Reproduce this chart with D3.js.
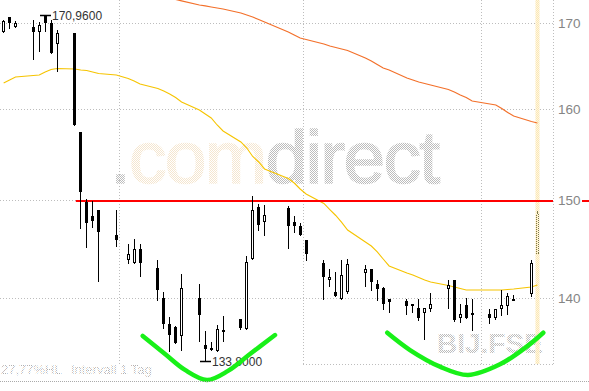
<!DOCTYPE html>
<html><head><meta charset="utf-8">
<script src="https://cdn.jsdelivr.net/npm/d3@7"></script>
<style>body{margin:0;background:#fff;} svg{display:block;font-family:"Liberation Sans",Arial,sans-serif;}</style>
</head><body><svg id="c" width="589" height="391"></svg>
<script>
// ---------- data ----------
const dates = ["2012-04-11","2012-04-12","2012-04-13","2012-04-16","2012-04-17","2012-04-18","2012-04-19","2012-04-20","2012-04-23","2012-04-24","2012-04-25","2012-04-26","2012-04-27","2012-04-30","2012-05-02","2012-05-03","2012-05-04","2012-05-07","2012-05-08","2012-05-09","2012-05-10","2012-05-11","2012-05-14","2012-05-15","2012-05-16","2012-05-17","2012-05-18","2012-05-21","2012-05-22","2012-05-23","2012-05-24","2012-05-25","2012-05-29","2012-05-30","2012-05-31","2012-06-01","2012-06-04","2012-06-05","2012-06-06","2012-06-07","2012-06-08","2012-06-11","2012-06-12","2012-06-13","2012-06-14","2012-06-15","2012-06-18","2012-06-19","2012-06-20","2012-06-21","2012-06-22","2012-06-25","2012-06-26","2012-06-27","2012-06-28","2012-06-29","2012-07-02","2012-07-03","2012-07-04","2012-07-05","2012-07-06","2012-07-09"];
const open  = [169.0,170.7,169.5,169.55,169.0,170.9,170.05,167.5,168.8,157.4,149.8,148.3,148.97,146.35,143.8,143.45,144.9,143.0,140.0,137.4,137.1,136.2,140.0,135.4,135.1,134.8,136.6,137.9,136.9,143.85,149.25,147.74,149.15,147.65,147.3,145.84,143.45,141.7,140.5,139.9,140.5,142.45,142.9,141.37,140.97,139.85,139.65,139.4,138.97,138.45,138.9,140.87,141.77,137.95,139.25,138.5,138.35,137.95,138.85,139.17,139.9,140.35];
const high  = [170.4,170.7,170.25,170.4,170.15,170.96,170.4,169.2,168.8,157.4,150.1,149.9,149.0,148.97,145.4,145.9,145.4,143.8,140.5,138.1,137.2,142.3,141.3,136.75,135.7,137.3,138.2,137.9,144.2,150.4,149.6,149.5,149.4,148.3,147.6,145.84,143.8,142.85,142.6,143.8,143.85,143.3,142.9,141.77,141.0,139.9,139.9,139.4,139.9,138.95,140.4,141.77,141.77,139.35,140.0,139.9,138.85,138.85,140.7,140.4,140.25,143.8];
const low   = [168.9,169.4,169.5,165.8,166.7,169.1,166.5,164.4,158.2,147.1,145.05,147.2,141.6,145.15,143.45,143.45,142.1,139.75,137.05,134.8,135.6,134.9,135.8,133.8,134.85,134.8,135.8,136.9,136.9,143.85,146.87,146.35,145.0,146.6,146.3,143.8,139.9,141.1,140.1,139.9,140.4,141.1,140.7,139.8,138.85,138.6,138.35,138.6,137.8,135.9,138.65,139.0,137.7,137.55,137.95,136.8,137.5,137.9,138.3,138.4,139.75,140.15];
const close = [170.3,170.0,170.0,169.0,169.8,170.0,166.5,168.8,158.2,150.9,147.6,147.8,146.6,145.84,144.4,144.9,143.5,140.77,137.4,136.3,135.6,140.9,138.3,134.96,134.9,136.9,136.8,137.05,143.6,148.9,147.35,148.45,147.25,147.25,146.3,144.4,142.0,142.0,140.1,142.2,143.4,142.85,141.5,140.87,139.4,139.6,139.2,139.2,138.0,138.95,139.4,141.27,137.8,138.4,138.0,138.3,138.0,138.85,139.25,140.1,139.75,143.45];

// running (intraday) candle
const currentDate = ["2012-07-10"];
const currentOHLC = [144.4, 148.8, 144.4, 148.6];

// moving averages
const maShort = [162.96,163.31,163.66,163.83,163.89,164.24,164.53,164.65,164.59,164.47,164.41,164.24,164.06,163.89,163.48,163.19,162.85,162.33,162.04,161.70,161.30,160.79,159.88,159.43,158.98,158.19,157.52,156.30,155.63,154.70,154.10,153.34,152.31,151.82,151.18,150.65,149.64,149.00,148.37,147.64,146.85,145.61,145.20,144.59,143.87,143.16,142.45,142.25,142.00,141.75,141.55,141.19,141.05,140.90,140.75,140.75,140.75,140.75,140.75,140.80,140.85,141.05,141.24];
const maLongStart = 17; // index in dates (2012-05-07)
const maLong = [173.44,173.26,173.07,172.89,172.73,172.22,172.10,171.97,171.85,171.73,171.24,171.00,170.76,170.46,170.16,168.96,168.60,168.24,168.06,167.53,167.29,167.11,166.93,166.76,165.87,165.52,165.11,164.70,164.47,163.54,163.31,163.08,162.91,162.73,162.22,161.93,161.59,161.30,160.90,160.56,160.45,160.05,159.60,159.20,158.58,158.41];

const yTicks = [140,150,160,170];
const monthStarts = ["2012-05-01","2012-06-01","2012-07-01"];
const resistanceLevel = 150;
const resistanceStart = "2012-04-23";
const highMark = {date:"2012-04-18", value:170.96, label:"170,9600"};
const lowMark  = {date:"2012-05-15", value:133.80, label:"133,8000"};

// hand-drawn "cup" annotations: day offsets from 2012-05-01 and prices
const cup1Days   = [3.95,7.71,11.08,14.79,18.33,22.04,26.26];
const cup1Prices = [136.24,134.51,133.00,132.06,132.91,134.51,136.33];
const cup2Days   = [45.19,49.02,54.08,58.80,64.20,68.70,71.50];
const cup2Prices = [136.55,134.89,133.31,132.53,133.53,135.21,136.55];

const infoLeft = "27,77%HL";
const infoRight = "Intervall 1 Tag";
const symbol = "BIJ.FSE";

// ---------- chart ----------
const svg = d3.select("#c");
const plotR = 553, plotB = 364;
const DAY = 864e5;
const parse = d3.utcParse("%Y-%m-%d");
const mid = s => new Date(parse(s).getTime() + DAY/2);
const x = d3.scaleUtc()
  .domain([new Date(Date.UTC(2012,3,10,21,10)), new Date(Date.UTC(2012,6,13,3,16))])
  .range([0, plotR]);
const y = d3.scaleLog().domain([140,170]).range([297.5,23.3]);
const cxOf = s => Math.floor(x(mid(s)));
const may1 = Date.UTC(2012,4,1);

svg.append("rect").attr("width",589).attr("height",391).attr("fill","#fff");

const defs = svg.append("defs");
function checker(id, color){
  const p = defs.append("pattern").attr("id",id).attr("width",2).attr("height",2)
    .attr("patternUnits","userSpaceOnUse");
  p.append("rect").attr("x",0).attr("y",0).attr("width",1).attr("height",1).attr("fill",color);
  p.append("rect").attr("x",1).attr("y",1).attr("width",1).attr("height",1).attr("fill",color);
}
checker("gray","#bcbcbc");
checker("cream","#f5e6cf");
checker("band","#f6cf78");
checker("info","#b0b0b0");
defs.append("clipPath").attr("id","plot").append("rect").attr("x",0).attr("y",0).attr("width",plotR).attr("height",plotB);

// watermark
const wm = svg.append("text").attr("x",110).attr("y",183)
  .attr("font-size",75).attr("textLength",330).attr("lengthAdjust","spacing")
  .attr("stroke-width",1.6);
wm.append("tspan").text(".").attr("fill","url(#gray)").attr("stroke","url(#gray)");
wm.append("tspan").text("com").attr("fill","url(#cream)").attr("stroke","url(#cream)");
wm.append("tspan").text("direct").attr("fill","url(#gray)").attr("stroke","url(#gray)");

svg.append("text").attr("x",437).attr("y",353).attr("font-size",28).attr("font-weight","bold")
  .attr("fill","url(#gray)").text(symbol);

// grid
const grid = svg.append("g").attr("stroke","#bdbdbd").attr("stroke-dasharray","1,2").attr("shape-rendering","crispEdges");
yTicks.forEach(t => {
  const yy = Math.round(y(t)) + 0.5;
  grid.append("line").attr("x1",0).attr("x2",plotR).attr("y1",yy).attr("y2",yy);
});
monthStarts.forEach(m => {
  const xx = Math.round(x(parse(m))) + 0.5;
  grid.append("line").attr("x1",xx).attr("x2",xx).attr("y1",0).attr("y2",plotB);
});
grid.append("line").attr("x1",plotR+0.5).attr("x2",plotR+0.5).attr("y1",0).attr("y2",plotB);
grid.append("line").attr("x1",303).attr("x2",plotR).attr("y1",plotB+0.5).attr("y2",plotB+0.5);

// highlight band for current day
const cxCur = cxOf(currentDate[0]);
svg.append("rect").attr("x",cxCur-1.5).attr("y",0).attr("width",4).attr("height",plotB)
  .attr("fill","#fff7df");
svg.append("rect").attr("x",cxCur-1.5).attr("y",0).attr("width",4).attr("height",plotB)
  .attr("fill","url(#band)").attr("opacity",0.4);

// moving averages
const g = svg.append("g").attr("clip-path","url(#plot)");
const lineGen = d3.line().x(d => x(d[0])).y(d => y(d[1]));
const shortPts = maShort.map((v,i) => [mid(i < dates.length ? dates[i] : currentDate[0]), v]);
g.append("path").attr("d", lineGen(shortPts)).attr("fill","none").attr("stroke","#f6c400").attr("stroke-width",1.1);
const longPts = maLong.map((v,i) => {
  const k = maLongStart + i;
  return [mid(k < dates.length ? dates[k] : currentDate[0]), v];
});
g.append("path").attr("d", lineGen(longPts)).attr("fill","none").attr("stroke","#f3702a").attr("stroke-width",1.2);

// resistance line
const ry = Math.round(y(resistanceLevel)) + 1;
svg.append("line").attr("x1",x(mid(resistanceStart))+1).attr("x2",plotR).attr("y1",ry).attr("y2",ry)
  .attr("stroke","#ff0000").attr("stroke-width",2);
svg.append("line").attr("x1",582).attr("x2",589).attr("y1",ry).attr("y2",ry)
  .attr("stroke","#ff0000").attr("stroke-width",2);

// candles
const cg = svg.append("g").attr("shape-rendering","crispEdges");
dates.forEach((d,i) => {
  const cx = cxOf(d);
  const o = open[i], c = close[i];
  const top = Math.round(y(Math.max(o,c))), bot = Math.round(y(Math.min(o,c)));
  cg.append("line").attr("x1",cx+0.5).attr("x2",cx+0.5)
    .attr("y1",Math.round(y(high[i]))).attr("y2",Math.round(y(low[i]))+1)
    .attr("stroke","#000").attr("stroke-width",1);
  if (c < o) {
    cg.append("rect").attr("x",cx-1).attr("y",top).attr("width",3).attr("height",Math.max(2,bot-top)).attr("fill","#000");
  } else {
    cg.append("rect").attr("x",cx-0.5).attr("y",top+0.5).attr("width",2).attr("height",Math.max(1,bot-top-1))
      .attr("fill","#fff").attr("stroke","#000").attr("stroke-width",1);
  }
});
// current candle (dotted)
{
  const [o,h,l,c] = currentOHLC;
  const top = Math.round(y(Math.max(o,c))), bot = Math.round(y(Math.min(o,c)));
  cg.append("line").attr("x1",cxCur+0.5).attr("x2",cxCur+0.5).attr("y1",Math.round(y(h))).attr("y2",top)
    .attr("stroke","#7d7a4a").attr("stroke-width",1);
  cg.append("rect").attr("x",cxCur-0.5).attr("y",top+0.5).attr("width",2).attr("height",bot-top-1)
    .attr("fill","none").attr("stroke","#7d7a4a").attr("stroke-width",1).attr("stroke-dasharray","1,1");
}

// high / low markers
function marker(m, dy){
  const cx = cxOf(m.date), yy = Math.round(y(m.value)) + 0.5;
  svg.append("line").attr("x1",cx-5).attr("x2",cx+6).attr("y1",yy).attr("y2",yy)
    .attr("stroke","#000").attr("stroke-width",1.5);
  svg.append("text").attr("x",cx+7).attr("y",yy+dy).attr("font-size",12).attr("fill","#333").text(m.label);
}
marker(highMark, 4);
marker(lowMark, 4);

// cup annotations
const cupLine = d3.line().curve(d3.curveCatmullRom.alpha(0.5))
  .x(d => x(new Date(may1 + d[0]*DAY))).y(d => y(d[1]));
[[cup1Days,cup1Prices],[cup2Days,cup2Prices]].forEach(([ds,ps]) => {
  svg.append("path").attr("d", cupLine(ds.map((d,i)=>[d,ps[i]])))
    .attr("fill","none").attr("stroke","#18f018").attr("stroke-width",4.5)
    .attr("stroke-linecap","round").attr("stroke-linejoin","round");
});

// right axis labels
svg.append("g").selectAll("text").data(yTicks).join("text")
  .attr("x",558).attr("y",t => y(t)+5).attr("font-size",13.5).attr("fill","#858585").text(t => t);

// bottom info
svg.append("line").attr("x1",0).attr("x2",589).attr("y1",381.5).attr("y2",381.5)
  .attr("stroke","#aaa").attr("stroke-dasharray","1,1");
svg.append("text").attr("x",1).attr("y",373.5).attr("font-size",13).attr("fill","url(#info)").text(infoLeft);
svg.append("text").attr("x",71).attr("y",373.5).attr("font-size",13).attr("fill","url(#info)").text(infoRight);
</script></body></html>
